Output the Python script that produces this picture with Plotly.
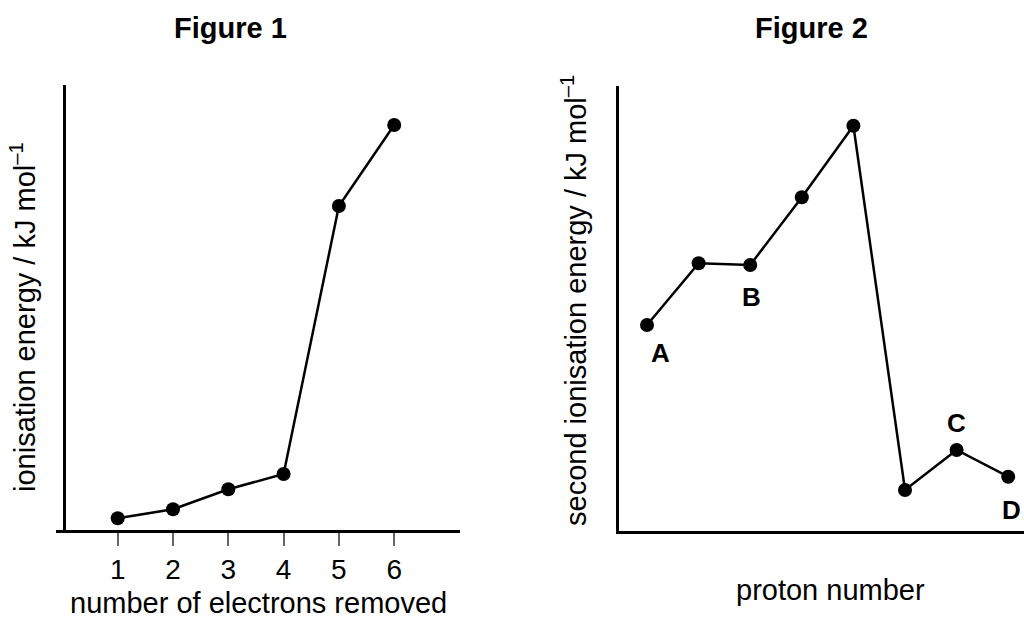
import plotly.graph_objects as go

# Figure 1 data
electrons = [1, 2, 3, 4, 5, 6]
ie1 = [11.7, 20.7, 40.7, 56, 324, 405]

# Figure 2 data
proton = [1, 2, 3, 4, 5, 6, 7, 8]
ie2 = [206, 267.7, 266, 333.7, 405.3, 41, 81, 54.3]
point_labels = {0: "A", 2: "B", 6: "C", 7: "D"}
label_shift = {0: (13, -28), 2: (1, -32), 6: (0, 27), 7: (3, -33)}

FONT = "Liberation Sans, Arial, sans-serif"
W, H = 1024, 618

fig = go.Figure()
fig.add_trace(go.Scatter(x=electrons, y=ie1, mode="lines+markers",
                         line=dict(color="black", width=2.5),
                         marker=dict(color="black", size=14),
                         xaxis="x", yaxis="y", showlegend=False))
fig.add_trace(go.Scatter(x=proton, y=ie2, mode="lines+markers",
                         line=dict(color="black", width=2.5),
                         marker=dict(color="black", size=14),
                         xaxis="x2", yaxis="y2", showlegend=False))

ann = []
for i, lab in point_labels.items():
    dx, dy = label_shift[i]
    ann.append(dict(x=proton[i], y=ie2[i], xref="x2", yref="y2", text="<b>%s</b>" % lab,
                    showarrow=False, xshift=dx, yshift=dy,
                    font=dict(family=FONT, size=26, color="black")))

def px_ann(x, y, text, size=29, angle=0, bold=False):
    t = "<b>%s</b>" % text if bold else text
    return dict(x=x / W, y=1 - y / H, xref="paper", yref="paper", text=t,
                showarrow=False, textangle=angle, xanchor="center", yanchor="middle",
                font=dict(family=FONT, size=size, color="black"))

ann += [
    px_ann(230, 28, "Figure 1", 29, bold=True),
    px_ann(811, 28, "Figure 2", 29, bold=True),
    px_ann(258, 603, "number of electrons removed", 29),
    px_ann(830, 590, "proton number", 29),
    px_ann(23, 317, "ionisation energy / kJ mol<sup>–1</sup>", 29, angle=-90),
    px_ann(574, 301, "second ionisation energy / kJ mol<sup>–1</sup>", 29, angle=-90),
]

fig.update_layout(
    width=W, height=H, margin=dict(l=0, r=0, t=0, b=0),
    paper_bgcolor="white", plot_bgcolor="white",
    font=dict(family=FONT, size=28, color="black"),
    xaxis=dict(domain=[56 / W, 460 / W], range=[-0.116, 7.19], anchor="y",
               showline=True, linecolor="black", linewidth=2.5,
               tickvals=electrons, ticktext=[str(e) for e in electrons],
               ticks="outside", ticklen=13, tickwidth=2, tickcolor="#666",
               tickfont=dict(size=28, family=FONT, color="black"),
               showgrid=False, zeroline=False, fixedrange=True),
    yaxis=dict(domain=[1 - 530 / H, 1 - 85 / H], range=[0, 445],
               anchor="free", position=64 / W,
               showline=True, linecolor="black", linewidth=2.5,
               showticklabels=False, ticks="", showgrid=False, zeroline=False),
    xaxis2=dict(domain=[619 / W, 1.0], range=[0.457, 8.306], anchor="y2",
                showline=True, linecolor="black", linewidth=2.5,
                showticklabels=False, ticks="", showgrid=False, zeroline=False),
    yaxis2=dict(domain=[1 - 531 / H, 1 - 86 / H], range=[0, 445], anchor="x2",
                showline=True, linecolor="black", linewidth=2.5,
                showticklabels=False, ticks="", showgrid=False, zeroline=False),
    annotations=ann,
)

fig.write_html("out.html", config={"displayModeBar": False},
               post_script="document.body.style.margin='0';document.body.style.overflow='hidden';")
